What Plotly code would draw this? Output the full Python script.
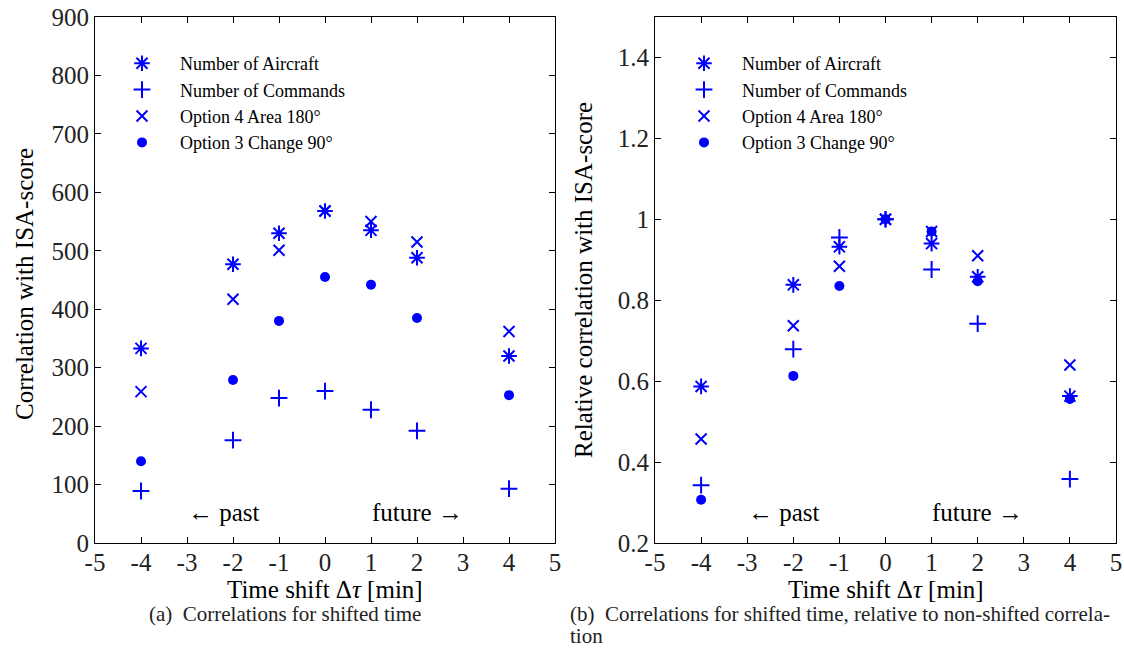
import plotly.graph_objects as go

W, H = 1124, 649

# ---------------- data ----------------
shift = [-4, -2, -1, 0, 1, 2, 4]

# (a) absolute correlations
abs_aircraft = [333, 477, 530, 568, 535, 488, 320]
abs_commands = [89, 176, 248, 260, 228, 192, 93]
abs_opt4_area = [259, 417, 501, 568, 550, 515, 362]
abs_opt3_change = [140, 279, 380, 455, 442, 385, 253]

# (b) relative correlations
rel_aircraft = [0.587, 0.838, 0.932, 1.0, 0.940, 0.858, 0.563]
rel_commands = [0.343, 0.679, 0.955, 1.0, 0.876, 0.742, 0.358]
rel_opt4_area = [0.457, 0.737, 0.884, 1.0, 0.970, 0.910, 0.640]
rel_opt3_change = [0.307, 0.613, 0.835, 1.0, 0.970, 0.847, 0.556]

series_names = ["Number of Aircraft", "Number of Commands",
                "Option 4 Area 180°", "Option 3 Change 90°"]

x_ticks = [-5, -4, -3, -2, -1, 0, 1, 2, 3, 4, 5]
x_ticktext = [str(v) for v in x_ticks]

# ---------------- styles ----------------
BLUE = "#0000ff"
FONT = "Liberation Serif"
marker_styles = [
    dict(symbol="asterisk-open", size=13, color=BLUE, line=dict(color=BLUE, width=2)),
    dict(symbol="cross-thin-open", size=12, color=BLUE, line=dict(color=BLUE, width=2)),
    dict(symbol="x-thin-open", size=11, color=BLUE, line=dict(color=BLUE, width=2)),
    dict(symbol="circle", size=10, color=BLUE, line=dict(width=0)),
]

fig = go.Figure()

pad = "\u00a0" * 4
for vals, name, ms in zip([abs_aircraft, abs_commands, abs_opt4_area, abs_opt3_change],
                          series_names, marker_styles):
    fig.add_trace(go.Scatter(x=shift, y=vals, mode="markers", name=pad + name,
                             marker=ms, xaxis="x", yaxis="y", legend="legend"))
for vals, name, ms in zip([rel_aircraft, rel_commands, rel_opt4_area, rel_opt3_change],
                          series_names, marker_styles):
    fig.add_trace(go.Scatter(x=shift, y=vals, mode="markers", name=pad + name,
                             marker=ms, xaxis="x2", yaxis="y2", legend="legend2"))

# plot-area pixel boxes
L1, R1 = 95, 555
L2, R2 = 655, 1116
T, B = 17, 543

def px(x):
    return x / W

def py(y):
    return 1 - y / H

axis_common = dict(showgrid=False, zeroline=False, showline=True, linecolor="black",
                   linewidth=1, mirror="ticks", ticks="inside", ticklen=6, automargin=False,
                   tickcolor="black", tickfont=dict(family=FONT, size=25, color="#222"))

xcommon = dict(axis_common, range=[-5, 5], tickmode="array", tickvals=x_ticks,
               ticktext=x_ticktext, ticklabelstandoff=-3)

legend_common = dict(bgcolor="rgba(0,0,0,0)", borderwidth=0,
                     font=dict(family=FONT, size=18, color="black"),
                     xanchor="left", yanchor="top", itemclick=False)

fig.update_layout(
    template="none",
    width=W, height=H,
    margin=dict(l=0, r=0, t=0, b=0, autoexpand=False),
    paper_bgcolor="white", plot_bgcolor="white",
    font=dict(family=FONT, color="black"),
    xaxis=dict(xcommon, domain=[px(L1), px(R1)], anchor="y"),
    yaxis=dict(axis_common, domain=[py(B), py(T)], range=[0, 900], dtick=100, anchor="x"),
    xaxis2=dict(xcommon, domain=[px(L2), px(R2)], anchor="y2"),
    yaxis2=dict(axis_common, domain=[py(B), py(T)], range=[0.2, 1.5],
                tickvals=[0.2, 0.4, 0.6, 0.8, 1.0, 1.2, 1.4], anchor="x2"),
    legend=dict(legend_common, x=px(122), y=py(45)),
    legend2=dict(legend_common, x=px(684), y=py(45)),
    showlegend=True,
)

ann = []
title_font = dict(family=FONT, size=25, color="black")
common_ann = dict(xref="paper", yref="paper", showarrow=False, yanchor="middle")
ann.append(dict(common_ann, x=px(24), y=py(284), xanchor="center",
                text="Correlation with ISA-score", textangle=-90, font=title_font))
ann.append(dict(common_ann, x=px(584), y=py(280), xanchor="center",
                text="Relative correlation with ISA-score", textangle=-90, font=title_font))
ann.append(dict(common_ann, x=px((L1 + R1) / 2), y=py(589), xanchor="center",
                text="Time shift Δ<i>τ</i> [min]", font=title_font))
ann.append(dict(common_ann, x=px((L2 + R2) / 2), y=py(589), xanchor="center",
                text="Time shift Δ<i>τ</i> [min]", font=title_font))
cap_font = dict(family=FONT, size=21, color="#222")
ann.append(dict(common_ann, x=px(147), y=py(614), xanchor="left",
                text="(a)\u00a0 Correlations for shifted time", font=cap_font))
ann.append(dict(common_ann, x=px(568), y=py(614), xanchor="left",
                text="(b)\u00a0 Correlations for shifted time, relative to non-shifted correla-",
                font=cap_font))
ann.append(dict(common_ann, x=px(568), y=py(636), xanchor="left",
                text="tion", font=cap_font))
# past / future labels (in data coords)
for xr, yr, yv in [("x", "y", 52), ("x2", "y2", 0.275)]:
    ann.append(dict(x=-2.2, y=yv, xref=xr, yref=yr, text="← past", showarrow=False, font=title_font))
    ann.append(dict(x=2.0, y=yv, xref=xr, yref=yr, text="future →", showarrow=False, font=title_font))

fig.update_layout(annotations=ann)

fig.write_html("out.html")
